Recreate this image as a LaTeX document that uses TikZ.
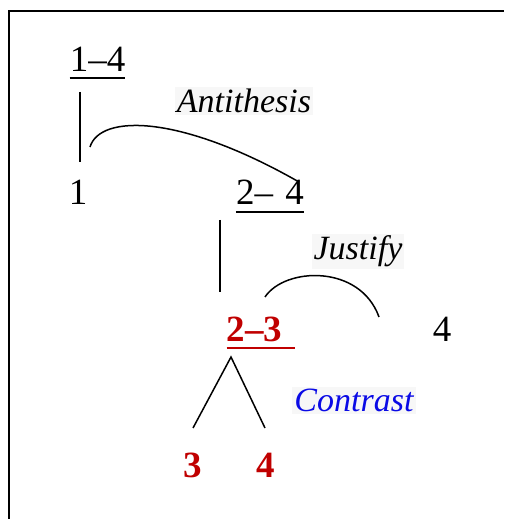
\documentclass[tikz,border=0pt]{standalone}
\usepackage{fontspec}
\setmainfont{Liberation Serif}
\usetikzlibrary{calc}
\definecolor{rstred}{RGB}{192,0,0}
\definecolor{rstblue}{RGB}{10,10,230}
\definecolor{lblbg}{RGB}{247,247,247}
\tikzset{
  num/.style={anchor=base, inner sep=0pt, font=\fontsize{37}{40}\selectfont},
  rednum/.style={anchor=base, inner sep=0pt, text=rstred, font=\fontsize{37}{40}\selectfont\bfseries},
  rel/.style={anchor=base, inner sep=2pt, fill=lblbg, font=\fontsize{34}{38}\selectfont\itshape},
  conn/.style={line width=1.5pt},
  uline/.style={line width=1.7pt}
}
\begin{document}
\begin{tikzpicture}[x=1pt,y=1pt]
\useasboundingbox (0,0) rectangle (504,519);
% frame (left and top edges)
\draw[line width=2.2pt] (9,0) -- (9,508) -- (504,508);

% nodes
\node[num] (n14) at (97.5,447) {1--4};
\node[num] (n1) at (78,314) {1};
\node[num] (n24) at (270,314) {2--\,\,4};
\node[rednum] (n23) at (254.5,177) {2--3};
\node[num] (n4) at (442,177) {4};
\node[rednum] (r3) at (193,41) {3};
\node[rednum] (r4) at (266,41) {4};

\node[rel] (anti) at (244,406) {Antithesis};
\node[rel] (just) at (358,259) {Justify};
\node[rel, text=rstblue] (contr) at (354,107) {Contrast};

% underlines
\draw[uline] ($(n14.base west)+(0,-6)$) -- ($(n14.base east)+(0,-6)$);
\draw[uline] ($(n24.base west)+(0,-7)$) -- ($(n24.base east)+(0,-7)$);
\draw[uline, rstred, line width=2.4pt] ($(n23.base west)+(0,-6)$) -- ($(n23.base east)+(13,-6)$);

% connector end points
\coordinate (a1) at (80,427);
\coordinate (a2) at (80,357);
\coordinate (b1) at (220,299);
\coordinate (b2) at (220,227);
\coordinate (t0) at (231,162);
\coordinate (tl) at (193,91);
\coordinate (tr) at (265,91);
\coordinate (s1) at (90,372);
\coordinate (s2) at (299,337);
\coordinate (j1) at (265,222);
\coordinate (j2) at (379,202);

% connectors
\draw[conn] (a1) -- (a2);
\draw[conn] (b1) -- (b2);
\draw[conn] (tl) -- (t0) -- (tr);
\draw[conn] (s1) .. controls (100,405) and (180,405) .. (s2);
\draw[conn] (j1) .. controls (285,252) and (360,255) .. (j2);
\end{tikzpicture}
\end{document}
